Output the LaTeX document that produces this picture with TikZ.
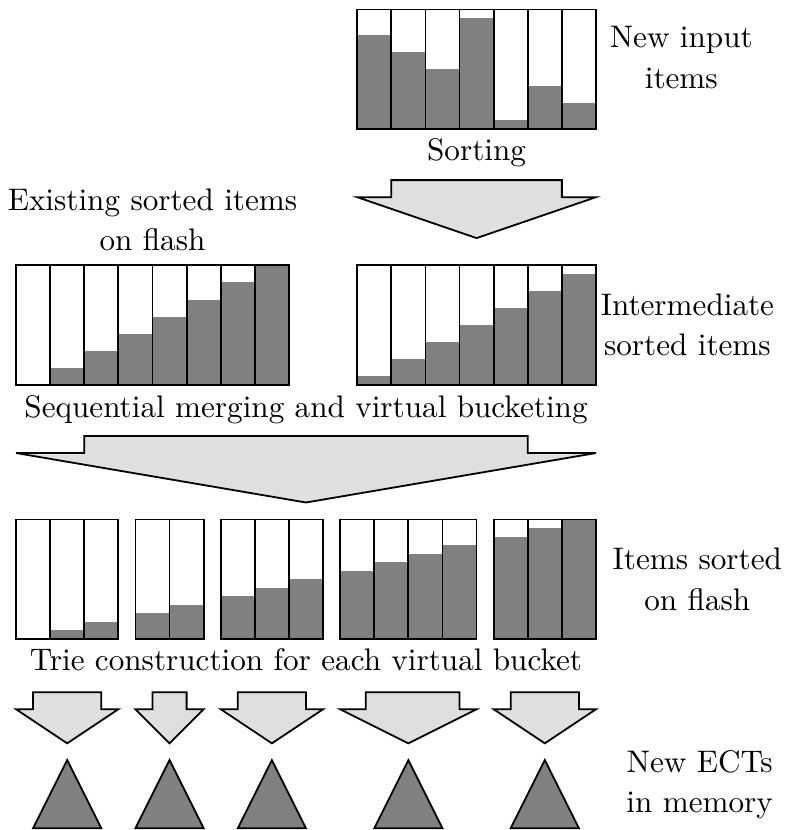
\documentclass[tikz,border=0pt]{standalone}
\begin{document}
\begin{tikzpicture}[x=0.4cm,y=0.4cm,semithick,
  font=\fontsize{10.4}{13.5}\selectfont,
  bar/.style={draw},
  level/.style={fill=gray},
  fatarrow/.style={draw,fill=gray!25,line join=miter},
  tree/.style={draw,fill=gray,line join=miter}]
  \useasboundingbox (-0.47,0) rectangle (22.54,24.33);
  % new input items, heights in 14ths
  \foreach \x/\h in {10/11,11/9,12/7,13/13,14/1,15/5,16/3} {
    \fill[level] (\x,20.55) rectangle ++(1,\h/4);
    \draw[bar] (\x,20.55) rectangle ++(1,3.5);
  }
  \node (sorting) at (13.5,19.84) {Sorting};
  \draw[fatarrow] (11,19.05) -- (16,19.05) -- (16,18.55) -- (17,18.55)
    -- (13.5,17.35) -- (10,18.55) -- (11,18.55) -- cycle;
  % existing items and intermediate items
  \foreach \x/\h in {0/0,1/2,2/4,3/6,4/8,5/10,6/12,7/14,
                     10/1,11/3,12/5,13/7,14/9,15/11,16/13} {
    \fill[level] (\x,13.05) rectangle ++(1,\h/4);
    \draw[bar] (\x,13.05) rectangle ++(1,3.5);
  }
  \node (merging) at (8.5,12.31) {Sequential merging and virtual bucketing};
  \draw[fatarrow] (2,11.55) -- (15,11.55) -- (15,11.05) -- (17,11.05)
    -- (8.5,9.6) -- (0,11.05) -- (2,11.05) -- cycle;
  % merged items in virtual buckets
  \foreach \x/\h in {0/0,1/1,2/2,3.5/3,4.5/4,6/5,7/6,8/7,
                     9.5/8,10.5/9,11.5/10,12.5/11,14/12,15/13,16/14} {
    \fill[level] (\x,5.6) rectangle ++(1,\h/4);
    \draw[bar] (\x,5.6) rectangle ++(1,3.5);
  }
  \node (trie) at (8.5,4.98) {Trie construction for each virtual bucket};
  \foreach \l/\sl/\sr/\r in {0/0.5/2.5/3,3.5/4/5/5.5,6/6.5/8.5/9,
                             9.5/10.25/13/13.5,14/14.5/16.5/17}
    \draw[fatarrow] (\sl,4.04) -- (\sr,4.04) -- (\sr,3.54) -- (\r,3.54)
      -- ({(\l+\r)/2},2.54) -- (\l,3.54) -- (\sl,3.54) -- cycle;
  % ECTs
  \foreach \m in {1.5,4.5,7.5,11.5,15.5}
    \draw[tree] (\m-1,0.05) -- (\m,2.05) -- (\m+1,0.05) -- cycle;
  % side labels
  \node[align=center] (newin) at (19.5,22.65) {New input\\items};
  \node[align=center] (existing) at (4,17.88) {Existing sorted items\\on flash};
  \node[align=center] (inter) at (19.68,14.8) {Intermediate\\sorted items};
  \node[align=center] (onflash) at (19.97,7.35) {Items sorted\\on flash};
  \node[align=center] (ects) at (20.04,1.32) {New ECTs\\in memory};
\end{tikzpicture}
\end{document}
